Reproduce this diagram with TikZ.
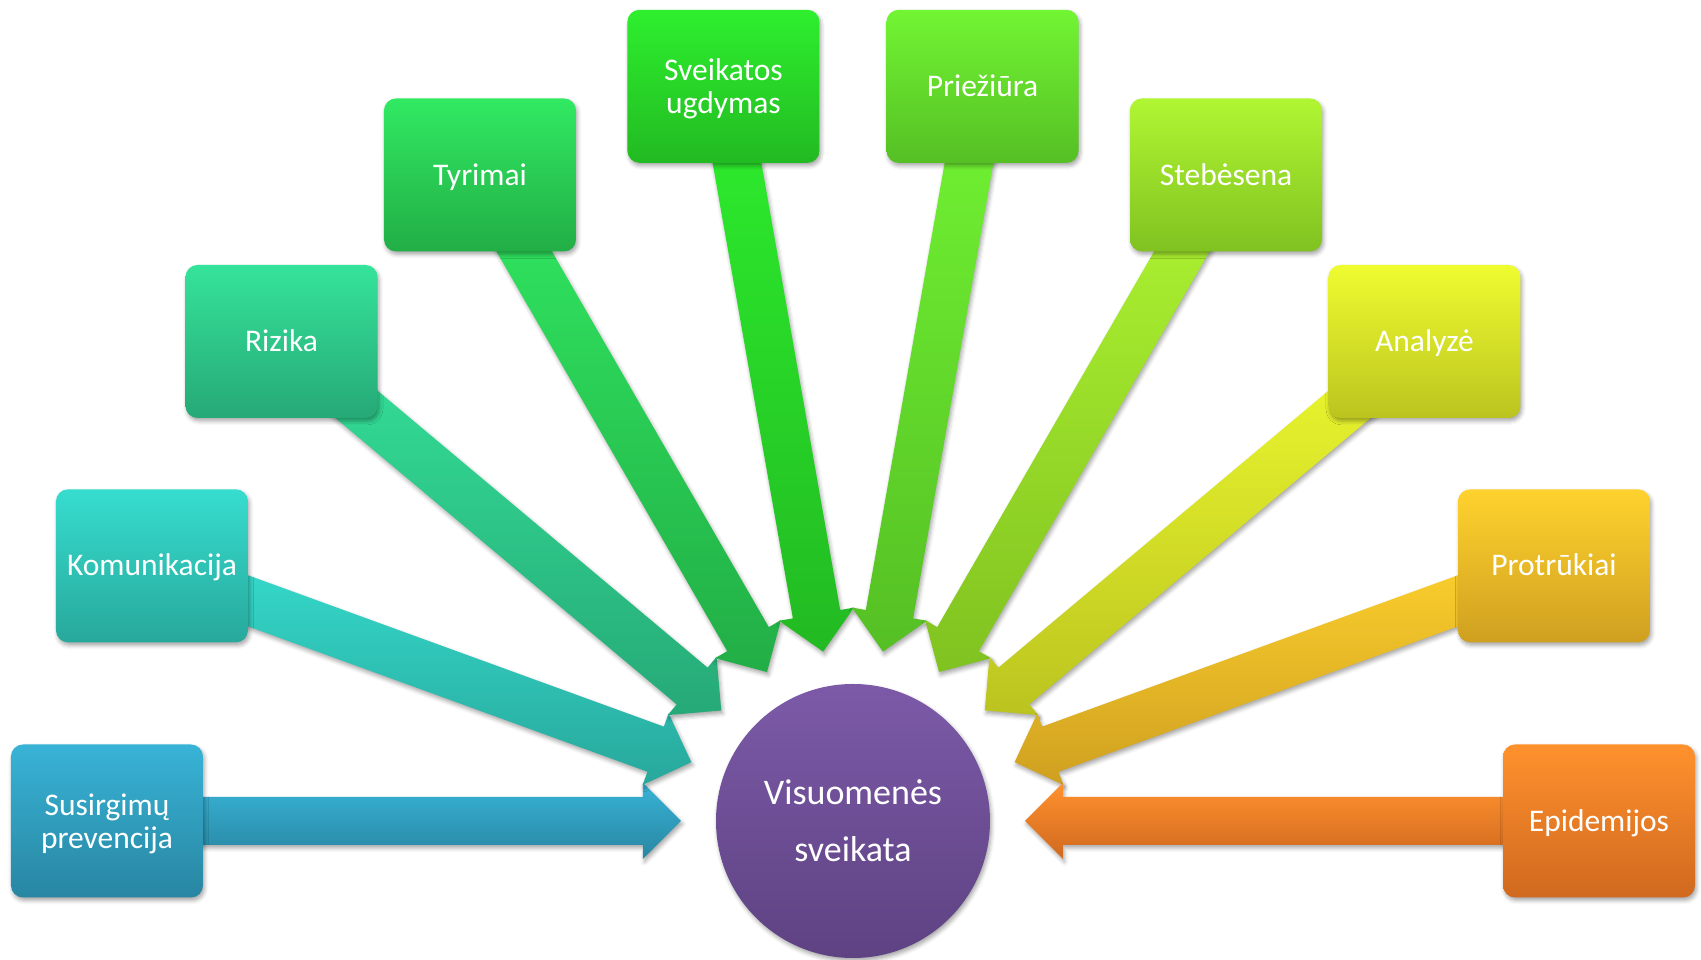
\documentclass[tikz,border=0pt]{standalone}
\usepackage{fontspec}
\setmainfont{Carlito}
\usetikzlibrary{calc,shadows.blur}
\pgfdeclarelayer{bg}
\pgfsetlayers{bg,main}
\definecolor{t1}{HTML}{38B3D6}\definecolor{d1}{HTML}{2886A2}
\definecolor{t2}{HTML}{36DDCF}\definecolor{d2}{HTML}{27A89B}
\definecolor{t3}{HTML}{35E39A}\definecolor{d3}{HTML}{26A977}
\definecolor{t4}{HTML}{31E962}\definecolor{d4}{HTML}{22AE46}
\definecolor{t5}{HTML}{2EEF2E}\definecolor{d5}{HTML}{22BA22}
\definecolor{t6}{HTML}{72F533}\definecolor{d6}{HTML}{55BF24}
\definecolor{t7}{HTML}{B1F633}\definecolor{d7}{HTML}{80C220}
\definecolor{t8}{HTML}{EFFC30}\definecolor{d8}{HTML}{BBC41F}
\definecolor{t9}{HTML}{FFD22E}\definecolor{d9}{HTML}{CFA020}
\definecolor{t10}{HTML}{FF912D}\definecolor{d10}{HTML}{D0691F}
\definecolor{ct}{HTML}{7C5AA8}\definecolor{cb}{HTML}{5E4282}
\tikzset{
  softshadow/.style={blur shadow={shadow xshift=1.5pt,shadow yshift=-3pt,shadow blur radius=4pt,shadow opacity=35}},
  box/.style={rounded corners=12pt, minimum width=192pt, minimum height=153pt,
    inner sep=0pt, align=center, text=white, font=\fontsize{31.5}{33.4}\selectfont, softshadow},
  oneline/.style={text height=20.3pt, text depth=0pt},
  twoline/.style={text depth=0pt},
  hub/.style={circle, minimum size=274pt, inner sep=0pt, align=center, text=white,
    top color=ct, bottom color=cb, font=\fontsize{36}{57}\selectfont, softshadow},
  fatarrow/.style={softshadow}
}
\begin{document}
\begin{tikzpicture}[x=1pt,y=1pt]
\useasboundingbox (-853,-139) rectangle (848,821);
\node[hub] (c) at (0,0) {Visuomenės\\sveikata};
\node[box, twoline, top color=t1, bottom color=d1] (b1) at (180:746) {Susirgimų\\prevencija};
\node[box, oneline, top color=t2, bottom color=d2] (b2) at (160:746) {Komunikacija};
\node[box, oneline, top color=t3, bottom color=d3] (b3) at (140:746) {Rizika};
\node[box, oneline, top color=t4, bottom color=d4] (b4) at (120:746) {Tyrimai};
\node[box, twoline, top color=t5, bottom color=d5] (b5) at (100:746) {Sveikatos\\ugdymas};
\node[box, oneline, top color=t6, bottom color=d6] (b6) at (80:746) {Priežiūra};
\node[box, oneline, top color=t7, bottom color=d7] (b7) at (60:746) {Stebėsena};
\node[box, oneline, top color=t8, bottom color=d8] (b8) at (40:746) {Analyzė};
\node[box, oneline, top color=t9, bottom color=d9] (b9) at (20:746) {Protrūkiai};
\node[box, oneline, top color=t10, bottom color=d10] (b10) at (0:746) {Epidemijos};
\begin{pgfonlayer}{bg}
\foreach \i in {1,...,10} {
  \path[fatarrow, top color=t\i, bottom color=d\i]
    ($(c.center)!172pt!(b\i.center)$)
    -- ($(c.center)!210pt!(b\i.center)!38pt!90:(b\i.center)$)
    -- ($(c.center)!210pt!(b\i.center)!24pt!90:(b\i.center)$)
    -- ($(b\i.center)!24pt!-90:(c.center)$)
    -- ($(b\i.center)!24pt!90:(c.center)$)
    -- ($(c.center)!210pt!(b\i.center)!24pt!-90:(b\i.center)$)
    -- ($(c.center)!210pt!(b\i.center)!38pt!-90:(b\i.center)$)
    -- cycle;
}
\end{pgfonlayer}
\end{tikzpicture}
\end{document}
